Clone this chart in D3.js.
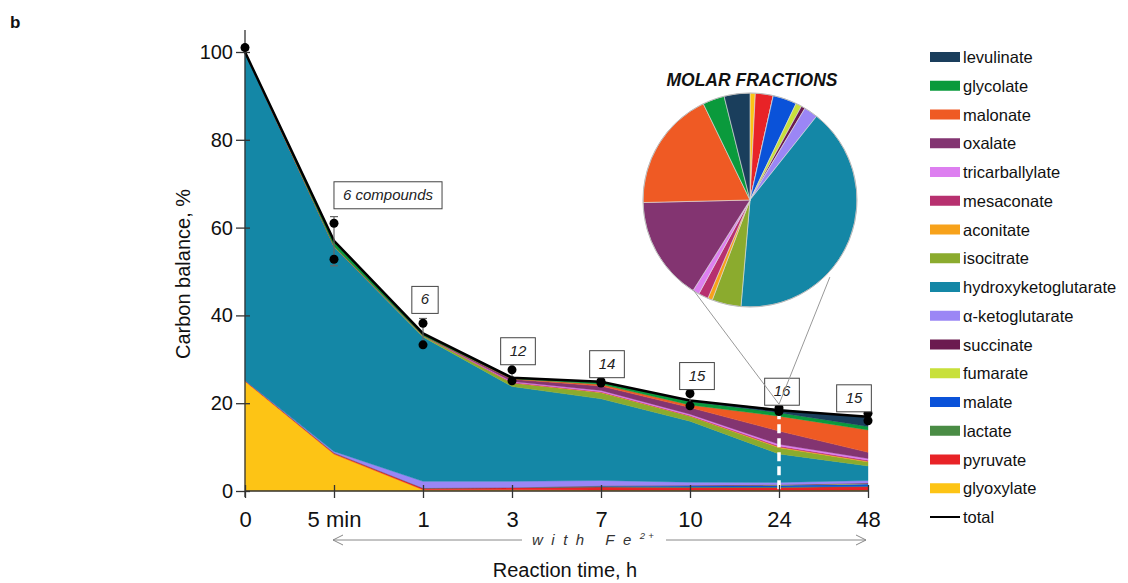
<!DOCTYPE html>
<html><head><meta charset="utf-8">
<script src="https://cdn.jsdelivr.net/npm/d3@7"></script>
<style>
body{margin:0;background:#fff;}
svg{font-family:"Liberation Sans",Arial,sans-serif;}
</style></head>
<body><svg id="c" width="1128" height="583"></svg>
<script>
// ---- data ----
const times = ["0","5 min","1","3","7","10","24","48"];
const keys = ["glyoxylate","pyruvate","lactate","malate","fumarate","succinate","α-ketoglutarate","hydroxyketoglutarate","isocitrate","aconitate","mesaconate","tricarballylate","oxalate","malonate","glycolate","levulinate"];
const colors = ["#fdc415","#e82327","#4a8c45","#0a52d9","#c8e03a","#6b1a4f","#9b86f5","#1487a6","#8bab2e","#f7a21b","#b7306f","#dd7ff0","#833471","#ef5a24","#0a9a3c","#1a3e5c"];
const glyoxylate = [25, 8.4, 0.3, 0.3, 0.2, 0.2, 0.2, 0.2];
const pyruvate = [0.2, 0.3, 0.4, 0.5, 0.7, 0.6, 0.6, 0.8];
const lactate = [0, 0, 0, 0, 0.1, 0.1, 0.1, 0.1];
const malate = [0, 0, 0, 0, 0.2, 0.3, 0.4, 0.5];
const fumarate = [0, 0, 0, 0, 0, 0.05, 0.05, 0.1];
const succinate = [0, 0, 0, 0, 0, 0.05, 0.1, 0.1];
const aKG = [0, 0.3, 1.5, 1.4, 1.2, 0.7, 0.5, 0.6];
const HKG = [74.8, 46.6, 32.9, 21.6, 18.6, 13.9, 6.5, 3.3];
const isocitrate = [0, 0.2, 0.3, 0.8, 1.4, 1.1, 1.4, 0.9];
const aconitate = [0, 0, 0, 0.05, 0.1, 0.1, 0.2, 0.2];
const mesaconate = [0, 0, 0, 0.1, 0.1, 0.1, 0.2, 0.2];
const tricarballylate = [0, 0, 0, 0.2, 0.3, 0.3, 0.4, 0.4];
const oxalate = [0, 0, 0, 0.5, 1.0, 1.5, 3.0, 1.4];
const malonate = [0, 0, 0, 0.1, 0.4, 0.6, 3.4, 5.1];
const glycolate = [0, 1.2, 0.5, 0.3, 0.5, 0.8, 0.8, 0.8];
const levulinate = [0, 0, 0, 0, 0.1, 0.2, 0.7, 2.1];
const total = [100, 57, 35.9, 25.8, 24.9, 20.6, 18.4, 16.9];
const dotsHigh = [101, 61, 38.2, 27.6, 25.0, 22.2, 18.9, 17.7];
const dotsLow = [null, 52.8, 33.3, 25.1, 24.6, 19.4, 18.1, 16.0];
const errHigh = [101.5, 62.5, 39.3, 28.0, 25.3, 22.6, 19.2, 18.1];
const errLow = [100.5, 51.3, 33.0, 24.9, 24.4, 19.1, 17.9, 15.8];
const compounds = [null, "6 compounds", "6", "12", "14", "15", "16", "15"];
const pieFractions = [0.8, 2.7, 0, 3.6, 0.9, 0.6, 2.1, 40.7, 4.4, 0.7, 1.5, 1.0, 15.7, 18.2, 3.3, 3.9];
const yTicks = [0, 20, 40, 60, 80, 100];
const series = [glyoxylate, pyruvate, lactate, malate, fumarate, succinate, aKG, HKG, isocitrate, aconitate, mesaconate, tricarballylate, oxalate, malonate, glycolate, levulinate];

// ---- layout ----
const svg = d3.select("#c");
const x = d3.scalePoint().domain(times).range([245, 868]);
const y = d3.scaleLinear().domain([0, 100]).range([491, 52]);
const color = d3.scaleOrdinal().domain(keys).range(colors);

const table = times.map((t, i) => {
  const o = {t};
  keys.forEach((k, j) => o[k] = series[j][i]);
  return o;
});
const stack = d3.stack().keys(keys)(table);
const area = d3.area().x(d => x(d.data.t)).y0(d => y(d[0])).y1(d => y(d[1]));

svg.append("g").selectAll("path").data(stack).join("path")
  .attr("d", area).attr("fill", d => color(d.key))
  .attr("stroke", d => color(d.key)).attr("stroke-width", 0.4);

// total line
svg.append("path").datum(total)
  .attr("d", d3.line().x((d, i) => x(times[i])).y(d => y(d)))
  .attr("fill", "none").attr("stroke", "#000").attr("stroke-width", 2.5);

// white dashed line at 24 h
svg.append("line").attr("x1", x("24")).attr("x2", x("24"))
  .attr("y1", y(total[6])).attr("y2", y(0))
  .attr("stroke", "#fff").attr("stroke-width", 3.5).attr("stroke-dasharray", "9,5");

// axes
const yAxis = svg.append("g").attr("transform", `translate(${x("0")},0)`)
  .call(d3.axisLeft(y).tickValues(yTicks).tickSize(0).tickPadding(12));
yAxis.select(".domain").remove();
yAxis.append("line").attr("x1", 0).attr("x2", 0).attr("y1", 30).attr("y2", y(0) + 6).attr("stroke", "#333").attr("stroke-width", 1.3);
yAxis.selectAll(".tick").append("line").attr("x1", -9).attr("x2", 5).attr("stroke", "#333").attr("stroke-width", 1.3);
yAxis.selectAll("text").attr("font-size", 20).attr("fill", "#111").attr("font-family", "Liberation Sans, Arial, sans-serif");

const xAxis = svg.append("g").attr("transform", `translate(0,${y(0)})`)
  .call(d3.axisBottom(x).tickSize(0).tickPadding(20));
xAxis.select(".domain").remove();
xAxis.append("line").attr("x1", x("0")).attr("x2", x("48")).attr("stroke", "#333").attr("stroke-width", 1.3);
xAxis.selectAll(".tick").append("line").attr("y1", -6).attr("y2", 7).attr("stroke", "#333").attr("stroke-width", 1.3);
xAxis.selectAll("text").attr("font-size", 22).attr("fill", "#111").attr("font-family", "Liberation Sans, Arial, sans-serif");

// error bars & dots
const eb = svg.append("g");
times.forEach((t, i) => {
  const cx = x(t);
  eb.append("line").attr("x1", cx).attr("x2", cx).attr("y1", y(errHigh[i])).attr("y2", y(errLow[i])).attr("stroke", "#666").attr("stroke-width", 1.2);
  [errHigh[i], errLow[i]].forEach(v => eb.append("line").attr("x1", cx - 4).attr("x2", cx + 4).attr("y1", y(v)).attr("y2", y(v)).attr("stroke", "#666").attr("stroke-width", 1.2));
  [dotsHigh[i], dotsLow[i]].forEach(v => { if (v != null) eb.append("circle").attr("cx", cx).attr("cy", y(v)).attr("r", 4.5).attr("fill", "#000"); });
});

// pie
const pcx = 750, pcy = 200, pr = 107;
const pieData = d3.pie().sort(null).value(d => d)(pieFractions);
const pg = svg.append("g").attr("transform", `translate(${pcx},${pcy})`);
pg.selectAll("path").data(pieData).join("path")
  .attr("d", d3.arc().innerRadius(0).outerRadius(pr))
  .attr("fill", (d, i) => colors[i]).attr("stroke", "#ddd").attr("stroke-width", 0.6);
pg.append("circle").attr("r", pr).attr("fill", "none").attr("stroke", "#bbb").attr("stroke-width", 1);
svg.append("text").attr("x", pcx + 2).attr("y", 86).attr("text-anchor", "middle")
  .attr("font-size", 17.5).attr("font-weight", "bold").attr("font-style", "italic").attr("fill", "#111").text("MOLAR FRACTIONS");

// compound-count boxes
const boxDx = [0, 54, 2, 6, 6, 7, 3, -14];
const boxDy = [0, 46, 34, 27, 18, 25, 19, 19];
times.forEach((t, i) => {
  if (!compounds[i]) return;
  const cx = x(t) + boxDx[i];
  const cy = y(total[i]) - boxDy[i];
  const g = svg.append("g");
  const txt = g.append("text").attr("x", cx).attr("y", cy + 5).attr("text-anchor", "middle")
    .attr("font-size", 15).attr("font-style", "italic").attr("fill", "#222").text(compounds[i]);
  const w = Math.max(22, txt.node().getComputedTextLength() + 18);
  g.insert("rect", "text").attr("x", cx - w / 2).attr("y", cy - 13).attr("width", w).attr("height", 27)
    .attr("fill", "#fff").attr("stroke", "#444").attr("stroke-width", 1);
});

// connector lines from pie to 24 h
const endX = x("24"), endY = y(total[6]) - 6;
[[212, 106.5], [134, 111]].forEach(([a, r]) => {
  const rad = a * Math.PI / 180;
  svg.append("line").attr("x1", pcx + r * Math.sin(rad)).attr("y1", pcy - r * Math.cos(rad))
    .attr("x2", endX).attr("y2", endY).attr("stroke", "#999").attr("stroke-width", 1);
});

// legend
const legKeys = keys.slice().reverse();
const lg = svg.append("g");
legKeys.forEach((k, i) => {
  const ly = 57 + i * 28.75;
  lg.append("rect").attr("x", 930).attr("y", ly - 5).attr("width", 30).attr("height", 10).attr("fill", color(k));
  lg.append("text").attr("x", 963).attr("y", ly + 6).attr("font-size", 16.5).attr("fill", "#111").text(k);
});
const ty = 57 + 16 * 28.75;
lg.append("line").attr("x1", 930).attr("x2", 960).attr("y1", ty).attr("y2", ty).attr("stroke", "#000").attr("stroke-width", 2);
lg.append("text").attr("x", 963).attr("y", ty + 6).attr("font-size", 16.5).attr("fill", "#111").text("total");

// arrow "with Fe2+"
const ay = 540;
const ag = svg.append("g").attr("stroke", "#888").attr("stroke-width", 1).attr("fill", "none");
ag.append("line").attr("x1", x("5 min") - 1).attr("x2", 522).attr("y1", ay).attr("y2", ay);
ag.append("line").attr("x1", 666).attr("x2", x("48") - 2).attr("y1", ay).attr("y2", ay);
ag.append("polyline").attr("points", `${x("5 min") + 9},${ay - 5} ${x("5 min") - 1},${ay} ${x("5 min") + 9},${ay + 5}`);
ag.append("polyline").attr("points", `${x("48") - 12},${ay - 5} ${x("48") - 2},${ay} ${x("48") - 12},${ay + 5}`);
const ft = svg.append("text").attr("x", 532).attr("y", ay + 5)
  .attr("font-size", 15).attr("font-style", "italic").attr("fill", "#333").attr("letter-spacing", 8.5);
ft.append("tspan").text("with Fe");
ft.append("tspan").attr("font-size", 9.5).attr("dy", -6).attr("letter-spacing", 3).text("2+");

// axis titles
svg.append("text").attr("x", 565).attr("y", 577).attr("text-anchor", "middle").attr("font-size", 20).attr("fill", "#111").text("Reaction time, h");
svg.append("text").attr("transform", "translate(190,274) rotate(-90)").attr("text-anchor", "middle").attr("font-size", 20).attr("fill", "#111").text("Carbon balance, %");
svg.append("text").attr("x", 10).attr("y", 28).attr("font-size", 17).attr("font-weight", "bold").attr("fill", "#111").text("b");
</script></body></html>
